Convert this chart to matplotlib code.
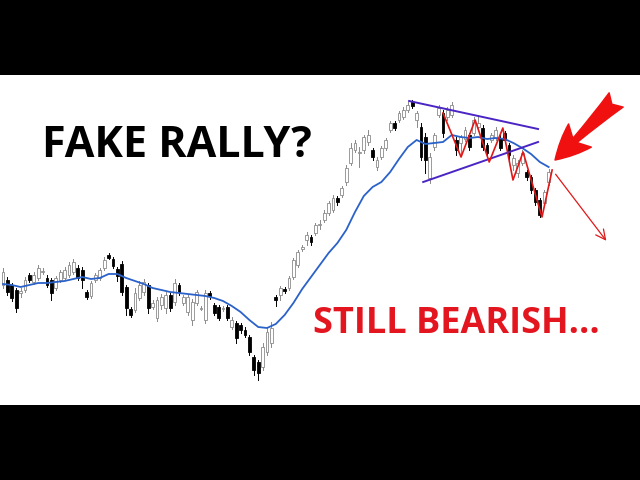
import matplotlib
matplotlib.use("Agg")
import matplotlib.pyplot as plt

# candle data, price units (index = trading day)
opens = [120, 125, 120, 115, 112, 115, 130, 123, 127, 133,
         127, 125, 117, 125, 127, 130, 133, 137, 135, 113,
         109, 125, 127, 137, 150, 146, 136, 141, 118, 96,
         95, 107, 113, 120, 98, 87, 100, 97, 110, 103,
         120, 102, 93, 85, 102, 96, 85, 112, 100, 98,
         96, 98, 78, 82, 80, 75, 68, 48, 43, 38,
         53, 62, 108, 110, 116, 117, 128, 140, 156, 165,
         168, 172, 180, 185, 192, 195, 207, 210, 223, 242,
         255, 252, 255, 263, 255, 238, 248, 257, 275, 282,
         285, 288, 295, 303, 285, 278, 268, 227, 258, 290,
         292, 288, 290, 265, 262, 266, 270, 272, 278, 277,
         260, 265, 267, 267, 272, 260, 240, 232, 242, 233,
         228, 215, 205, 202, 223]
closes = [133, 113, 107, 97, 114, 125, 125, 130, 137, 134,
          120, 112, 127, 133, 135, 140, 143, 127, 125, 108,
          122, 130, 135, 145, 147, 139, 129, 113, 97, 90,
          112, 120, 123, 97, 102, 105, 108, 110, 97, 122,
          113, 108, 108, 103, 113, 97, 112, 109, 92, 87,
          97, 87, 85, 67, 75, 70, 53, 35, 32, 58,
          73, 77, 105, 117, 114, 127, 145, 153, 158, 170,
          163, 180, 181, 192, 202, 207, 203, 217, 237, 257,
          262, 253, 268, 270, 248, 245, 257, 265, 282, 277,
          292, 295, 300, 299, 292, 248, 245, 248, 270, 297,
          272, 295, 300, 255, 268, 275, 258, 285, 282, 258,
          252, 270, 275, 257, 265, 250, 247, 242, 252, 228,
          215, 203, 190, 213, 233]
highs = [137, 128, 122, 117, 117, 128, 132, 133, 140, 137,
         130, 127, 129, 135, 138, 143, 146, 140, 138, 115,
         124, 132, 137, 148, 152, 148, 138, 144, 120, 98,
         117, 124, 126, 122, 105, 108, 111, 113, 112, 126,
         122, 110, 110, 106, 115, 99, 115, 114, 102, 100,
         99, 100, 88, 84, 82, 78, 70, 50, 45, 62,
         77, 83, 110, 119, 118, 129, 147, 155, 160, 173,
         170, 182, 185, 195, 204, 210, 209, 219, 240, 262,
         265, 258, 270, 275, 257, 248, 259, 267, 284, 284,
         294, 298, 303, 305, 294, 282, 272, 252, 272, 300,
         295, 298, 303, 268, 270, 278, 272, 288, 290, 280,
         262, 272, 278, 270, 274, 262, 250, 245, 255, 235,
         230, 217, 207, 215, 236]
lows = [117, 110, 104, 93, 108, 113, 123, 121, 125, 131,
        118, 105, 115, 123, 125, 128, 131, 125, 117, 106,
        107, 123, 125, 135, 146, 137, 124, 110, 90, 88,
        93, 105, 110, 92, 96, 84, 96, 92, 94, 100,
        110, 100, 90, 80, 100, 95, 82, 106, 90, 85,
        94, 85, 76, 62, 72, 68, 50, 30, 25, 35,
        50, 58, 99, 105, 112, 115, 126, 138, 154, 160,
        160, 170, 176, 183, 190, 193, 200, 208, 220, 240,
        253, 238, 252, 260, 245, 235, 246, 255, 273, 275,
        283, 286, 293, 297, 278, 245, 232, 222, 255, 288,
        268, 285, 288, 250, 250, 264, 255, 270, 275, 255,
        250, 263, 265, 255, 262, 245, 235, 228, 240, 225,
        212, 200, 188, 200, 220]

# moving average, read every second candle
ma_idx = list(range(0, 125, 2))
ma_vals = [121, 120, 118, 120, 122, 122, 123, 124, 126, 128, 126, 127, 131,
           131, 127, 124, 121, 117, 115, 113, 112, 111, 110, 109, 107, 104,
           99, 93, 85, 78, 77, 81, 90, 102, 116, 128, 140, 152, 162, 175,
           193, 209, 218, 223, 233, 246, 258, 265, 261, 262, 263, 270, 268,
           267, 268, 266, 267, 266, 262, 257, 251, 243, 238]

# drawn annotations (index, price)
upper_line = ([92.3, 121.6], [304, 276])
lower_line = ([95.5, 121.6], [223, 263])
zig_idx = [100.0, 104.1, 107.3, 110.5, 113.6, 115.9, 118.2, 122.5, 124.8]
zig_vals = [292, 248, 285, 243, 277, 225, 253, 188, 235]
down_arrow = ((125.2, 233), (137.5, 162))
big_arrow = ((139.8, 307), (125.0, 243))

fig = plt.figure(figsize=(6.4, 4.8), dpi=100, facecolor="black")
ax = fig.add_axes([0, 75 / 480, 1, 330 / 480])
ax.set_facecolor("white")
ax.set_xlim(-0.68, 144.77)
ax.set_ylim(0, 330)
ax.set_xticks([])
ax.set_yticks([])
for s in ax.spines.values():
    s.set_visible(False)

for i in range(len(opens)):
    o, c, h, l = opens[i], closes[i], highs[i], lows[i]
    up = c >= o
    col = "#8a8a8a" if up else "black"
    ax.plot([i, i], [l, h], color=col, lw=0.7, zorder=2)
    ax.bar(i, max(abs(c - o), 1.2), bottom=min(o, c), width=0.62,
           facecolor="white" if up else "black", edgecolor=col, lw=0.6, zorder=3)

ax.plot(ma_idx, ma_vals, color="#2a62c9", lw=1.3, zorder=4)

ax.plot(*upper_line, color="#4a25c4", lw=1.4, zorder=5)
ax.plot(*lower_line, color="#4a25c4", lw=1.4, zorder=5)
ax.plot(zig_idx, zig_vals, color="#e01818", lw=1.2, zorder=5)
ax.annotate("", xy=down_arrow[1], xytext=down_arrow[0],
            arrowprops=dict(arrowstyle="->,head_length=0.7,head_width=0.35",
                            color="#e01818", lw=0.9))
ax.annotate("", xy=big_arrow[1], xytext=big_arrow[0],
            arrowprops=dict(arrowstyle="fancy,head_length=1.4,head_width=1.3,tail_width=0.8",
                            fc="#f01010", ec="#f01010", mutation_scale=18))

ax.text(0.277, 0.785, "FAKE RALLY?", transform=ax.transAxes, ha="center",
        va="center", fontsize=31, fontweight="bold", family="Open Sans",
        color="black")
ax.text(0.7125, 0.245, "STILL BEARISH...", transform=ax.transAxes,
        ha="center", va="center", fontsize=26, fontweight="bold",
        family="Open Sans", color="#e3151f")

fig.savefig("out.png", dpi=100, facecolor="black")
